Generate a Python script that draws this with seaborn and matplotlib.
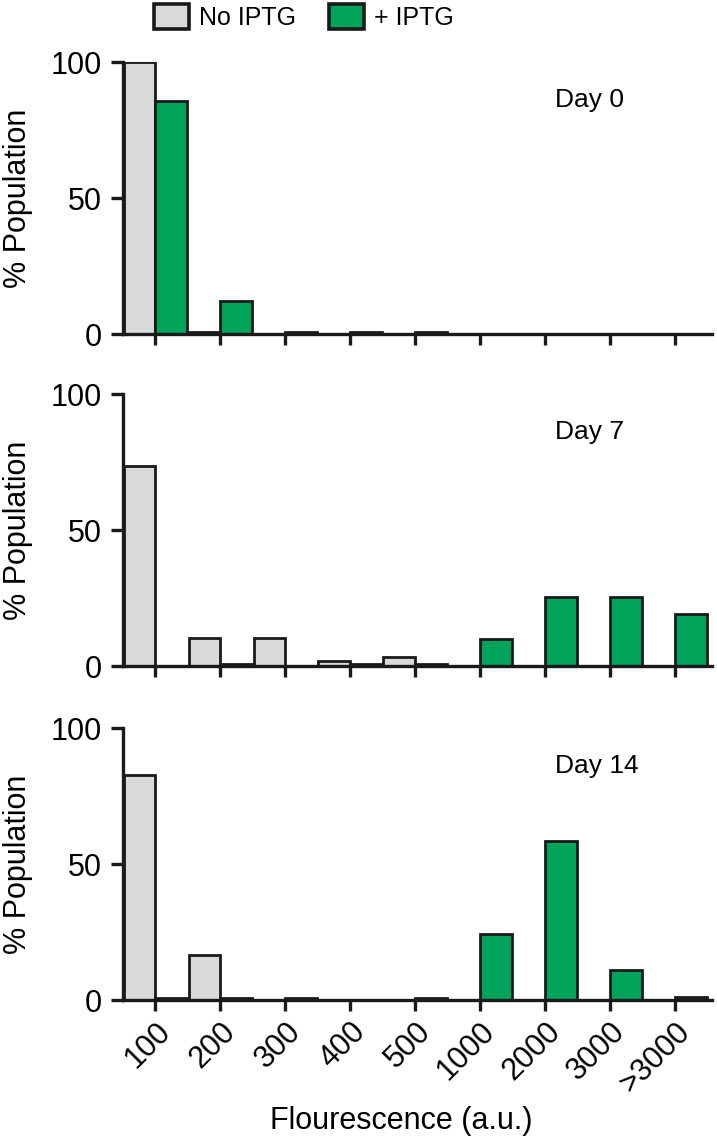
import matplotlib
matplotlib.use("Agg")
import matplotlib.pyplot as plt
import seaborn as sns
import pandas as pd
from matplotlib.patches import Patch

categories = ["100", "200", "300", "400", "500", "1000", "2000", "3000", ">3000"]
conditions = ["No IPTG", "+ IPTG"]
day_labels = ["Day 0", "Day 7", "Day 14"]

day0_no = [100, 0.6, 0, 0, 0, 0, 0, 0, 0]
day0_plus = [85.8, 12.3, 0.6, 0.6, 0.6, 0, 0, 0, 0]
day7_no = [73.7, 10.4, 10.4, 1.8, 3.4, 0, 0, 0, 0]
day7_plus = [0, 0.6, 0, 0.6, 0.6, 9.9, 25.5, 25.5, 19.0]
day14_no = [82.8, 16.6, 0, 0, 0, 0, 0, 0, 0]
day14_plus = [0.6, 0.6, 0.6, 0, 0.6, 24.3, 58.5, 11.0, 1.1]

series = [(day0_no, day0_plus), (day7_no, day7_plus), (day14_no, day14_plus)]

GRAY = "#D8D9DB"
GREEN = "#00A35A"
INK = "#1a1a1a"

sns.set_theme(style="white")
plt.rcParams["font.family"] = ["Liberation Sans", "DejaVu Sans"]

fig = plt.figure(figsize=(7.17, 11.38), dpi=100)

left = 123 / 717
width = (712 - 123) / 717
height = 272 / 1138
bottoms = [1 - 334 / 1138, 1 - 666 / 1138, 1 - 1000 / 1138]

LW = 2.4
for i, ((no, plus), day) in enumerate(zip(series, day_labels)):
    ax = fig.add_axes([left, bottoms[i], width, height])
    df = pd.DataFrame({
        "Fluorescence": categories * 2,
        "cond": [conditions[0]] * len(categories) + [conditions[1]] * len(categories),
        "pct": list(no) + list(plus),
    })
    sns.barplot(data=df, x="Fluorescence", y="pct", hue="cond",
                order=categories, hue_order=conditions,
                palette=[GRAY, GREEN], saturation=1, width=0.98, edgecolor=INK,
                linewidth=2.0, errorbar=None, legend=False, ax=ax, zorder=2)
    ax.set_xlim(-0.5, 8.57)
    ax.set_ylim(0, 100)
    ax.set_yticks([0, 50, 100])
    sns.despine(ax=ax)
    for s in ["left", "bottom"]:
        ax.spines[s].set_linewidth(LW)
        ax.spines[s].set_color(INK)
        ax.spines[s].set_zorder(5)
    ax.tick_params(axis="y", direction="out", length=9, width=LW,
                   labelsize=22, pad=6, left=True, color=INK, labelcolor="black")
    ax.tick_params(axis="x", direction="out", length=8, width=LW,
                   labelsize=22, pad=4, bottom=True, color=INK, labelcolor="black")
    ax.set_ylabel("% Population", fontsize=22, color="black")
    ax.yaxis.set_label_coords(-0.152, 0.5)
    ax.text(0.733, 0.86, day, transform=ax.transAxes, fontsize=19,
            va="center", ha="left", color="black")
    if i < 2:
        ax.tick_params(axis="x", labelbottom=False)
        ax.set_xlabel("")
    else:
        for lab in ax.get_xticklabels():
            lab.set_rotation(45)
            lab.set_ha("right")
            lab.set_rotation_mode("anchor")
        ax.set_xlabel("Flourescence (a.u.)", fontsize=22, color="black")
        ax.xaxis.set_label_coords(0.472, -0.39)

handles = [Patch(facecolor=GRAY, edgecolor=INK, linewidth=2.6),
           Patch(facecolor=GREEN, edgecolor=INK, linewidth=2.6)]
fig.legend(handles, conditions, loc="upper center", ncol=2,
           bbox_to_anchor=(304 / 717, 1.0), frameon=False,
           prop={"size": 18}, labelcolor="black",
           handlelength=1.4, handleheight=1.2, handletextpad=0.4,
           columnspacing=1.3, borderaxespad=0.0, borderpad=0.15)

fig.savefig("out.png", dpi=100)
